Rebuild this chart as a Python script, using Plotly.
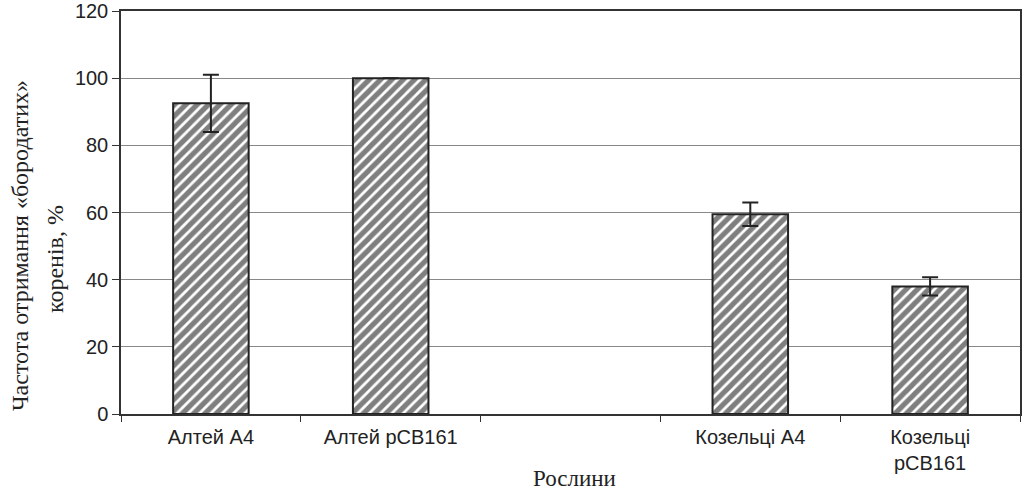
import plotly.graph_objects as go

categories = ["Алтей А4", "Алтей pCB161", " ", "Козельці А4", "Козельці<br>pCB161"]
values = [92.5, 100, None, 59.5, 38]
errors = [8.5, 0, None, 3.5, 2.7]
y_ticks = [0, 20, 40, 60, 80, 100, 120]
x_title = "Рослини"
y_title_1 = "Частота отримання «бородатих»"
y_title_2 = "коренів, %"

W, H = 1029, 492
L, R, T, B = 121, 1020, 11, 414
pw, ph = R - L, B - T

def px_x(x):
    return (x - L) / pw

def px_y(y):
    return (B - y) / ph

serif = "Liberation Serif, Times New Roman, serif"

fig = go.Figure()
fig.add_trace(go.Bar(
    x=categories, y=values,
    width=0.42,
    marker=dict(
        color="white",
        line=dict(color="#222222", width=2),
        pattern=dict(shape="/", fgcolor="#000000", bgcolor="white", size=8, solidity=0.65, fillmode="overlay"),
    ),
    error_y=dict(type="data", array=errors, visible=True, color="#222222", thickness=2, width=8),
    showlegend=False,
))

fig.update_layout(
    width=W, height=H,
    margin=dict(l=L, r=W - R, t=T, b=H - B, autoexpand=False),
    paper_bgcolor="white", plot_bgcolor="white",
    font=dict(family="Liberation Sans, Arial, sans-serif", size=20, color="#222222"),
    xaxis=dict(
        type="category", categoryorder="array", categoryarray=categories,
        tickson="boundaries", ticks="outside", ticklen=6, tickcolor="#333333",
        showline=True, linecolor="#333333", linewidth=1.5, mirror=True,
        showgrid=False, automargin=False, ticklabelstandoff=4,
    ),
    yaxis=dict(
        range=[0, 120], tickvals=y_ticks,
        ticks="outside", ticklen=7, tickcolor="#333333",
        showline=True, linecolor="#333333", linewidth=1.5, mirror=True,
        showgrid=True, gridcolor="#888888", gridwidth=1,
        zeroline=False, automargin=False, ticklabelstandoff=0,
        ticklabeloverflow="allow",
    ),
    annotations=[
        dict(text=x_title, xref="paper", yref="paper", x=px_x(574), y=px_y(478),
             xanchor="center", yanchor="middle", showarrow=False,
             font=dict(family=serif, size=23, color="#222222")),
        dict(text=y_title_1, xref="paper", yref="paper", x=px_x(20), y=px_y(246),
             xanchor="center", yanchor="middle", textangle=-90, showarrow=False,
             font=dict(family=serif, size=24, color="#222222")),
        dict(text=y_title_2, xref="paper", yref="paper", x=px_x(55), y=px_y(259),
             xanchor="center", yanchor="middle", textangle=-90, showarrow=False,
             font=dict(family=serif, size=24, color="#222222")),
    ],
)

fig.write_html("out.html", config={"displayModeBar": False},
               post_script="document.body.style.margin='0';")
